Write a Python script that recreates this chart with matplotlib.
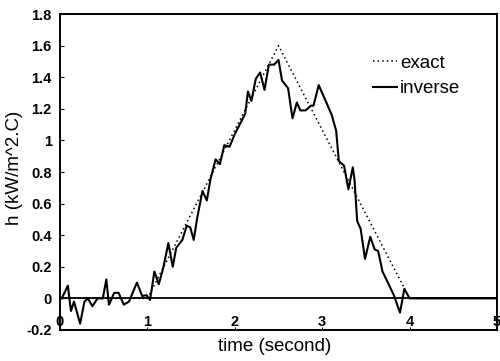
import matplotlib
matplotlib.use('Agg')
from matplotlib import pyplot as plt

plt.rcParams['font.family'] = ['Liberation Sans', 'DejaVu Sans']

# exact heat transfer coefficient (triangular pulse)
exact_t = [0, 1, 2.5, 4, 5]
exact_h = [0, 0, 1.6, 0, 0]

# inverse estimate
inv_t = [0.02, 0.09, 0.125, 0.16, 0.23, 0.28, 0.32, 0.37, 0.43, 0.49,
         0.53, 0.56, 0.62, 0.67, 0.73, 0.79, 0.88, 0.94, 0.99, 1.03,
         1.08, 1.13, 1.18, 1.24, 1.29, 1.33, 1.40, 1.45, 1.49, 1.53,
         1.57, 1.63, 1.68, 1.72, 1.78, 1.83, 1.88, 1.94, 2.00, 2.12,
         2.15, 2.19, 2.24, 2.29, 2.34, 2.39, 2.45, 2.50, 2.54, 2.61,
         2.66, 2.71, 2.75, 2.81, 2.87, 2.90, 2.96, 3.04, 3.11, 3.16,
         3.19, 3.25, 3.30, 3.35, 3.37, 3.40, 3.44, 3.49, 3.55, 3.60,
         3.64, 3.69, 3.76, 3.82, 3.89, 3.94, 4.00, 5.00]
inv_h = [0.0, 0.08, -0.08, -0.02, -0.16, -0.02, 0.0, -0.05, 0.0, 0.0,
         0.12, -0.04, 0.035, 0.035, -0.04, -0.02, 0.10, 0.015, 0.02, -0.01,
         0.17, 0.09, 0.19, 0.35, 0.20, 0.32, 0.37, 0.46, 0.45, 0.37,
         0.51, 0.68, 0.62, 0.75, 0.88, 0.85, 0.97, 0.96, 1.04, 1.17,
         1.31, 1.25, 1.39, 1.43, 1.32, 1.48, 1.48, 1.51, 1.38, 1.33,
         1.14, 1.24, 1.19, 1.19, 1.22, 1.22, 1.35, 1.25, 1.16, 1.06,
         0.87, 0.84, 0.69, 0.83, 0.75, 0.49, 0.44, 0.25, 0.39, 0.31,
         0.30, 0.17, 0.09, 0.02, -0.09, 0.06, 0.0, 0.0]

xticks = [0, 1, 2, 3, 4, 5]
yticks = [-0.2, 0, 0.2, 0.4, 0.6, 0.8, 1, 1.2, 1.4, 1.6, 1.8]
ytick_labels = ['-0.2', '0', '0.2', '0.4', '0.6', '0.8', '1', '1.2', '1.4', '1.6', '1.8']

fig = plt.figure(figsize=(5, 3.61), dpi=100)
ax = fig.add_axes([0.12, 0.086, 0.874, 0.875])

ax.axhline(0, color='black', lw=1.3)
ax.plot(exact_t, exact_h, color='black', ls=(0, (1, 2)), lw=1.1, label='exact')
ax.plot(inv_t, inv_h, color='black', lw=1.5, label='inverse')

ax.set_xlim(0, 5)
ax.set_ylim(-0.2, 1.8)
ax.set_xticks(xticks)
ax.set_xticklabels([str(t) for t in xticks], fontsize=10.5, fontweight='bold')
ax.set_yticks(yticks)
ax.set_yticklabels(ytick_labels, fontsize=10.5, fontweight='bold')
ax.tick_params(axis='x', direction='in', length=2, pad=-10.5)
ax.tick_params(axis='y', direction='in', length=3, pad=6)

for s in ax.spines.values():
    s.set_linewidth(1.4)

ax.legend(loc='upper right', bbox_to_anchor=(0.955, 0.925), frameon=False,
          fontsize=13.5, handlelength=1.3, handletextpad=0.15, labelspacing=0.45)

fig.text(0.55, 0.04, 'time (second)', ha='center', va='center', fontsize=13.5)
fig.text(0.03, 0.535, 'h (kW/m^2.C)', ha='center', va='center',
         rotation=90, fontsize=13.5)

fig.savefig('out.png', dpi=100)
